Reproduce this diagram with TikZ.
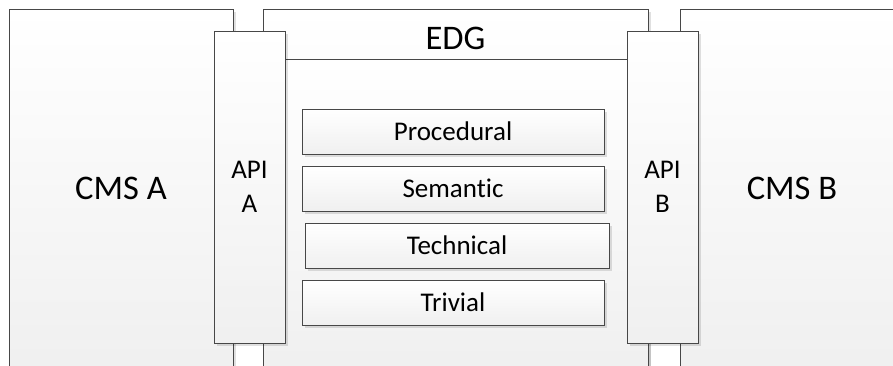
\documentclass[tikz,border=0pt]{standalone}
\usepackage{fontspec}
\setmainfont{Carlito}[Ligatures=NoCommon]
\usepackage{tikz}
\usetikzlibrary{positioning,shadows}
\tikzset{
    panel/.style={
        draw=black!72,
        line width=1pt,
        top color=white,
        bottom color=black!6,
        drop shadow={shadow xshift=3pt, shadow yshift=-3pt, fill=black, opacity=0.12},
        inner sep=0pt,
        align=center
    },
    cmsbox/.style={
        panel,
        minimum width=224pt,
        minimum height=358pt,
        font=\fontsize{34.5}{40}\selectfont
    },
    apibox/.style={
        panel,
        minimum width=71pt,
        minimum height=312pt,
        font=\fontsize{27}{34}\selectfont
    },
    layerbox/.style={
        panel,
        minimum width=302pt,
        minimum height=45pt,
        font=\fontsize{27}{32}\selectfont
    }
}

\begin{document}
\begin{tikzpicture}[x=1pt, y=-1pt, node distance=11pt]
        \useasboundingbox (0,0) rectangle (893,365);
        \clip (0,0) rectangle (893,365);
        \fill[white] (0,0) rectangle (893,365);

        % the two systems and the gateway between them
        \node[cmsbox] (cmsa) at (121,188) {CMS A};
        \node[cmsbox] (cmsb) at (792,188) {CMS B};
        \node[panel, minimum width=385pt, minimum height=358pt] (edg) at (455.5,188) {};
        \node[font=\fontsize{34.5}{40}\selectfont, inner sep=0pt, below=18pt of edg.north] (edgtitle) {EDG};
        \node[panel, minimum width=385pt, minimum height=308pt] (edgbody) at (455.5,213) {};

        % interfaces
        \node[apibox] (apia) at (249.5,187) {API\\A};
        \node[apibox] (apib) at (662.5,187) {API\\B};

        % layers inside the gateway
        \node[layerbox] (proc) at (453,131.5) {Procedural};
        \node[layerbox, below=of proc] (sem) {Semantic};
        \node[layerbox, minimum width=304pt, below=of sem, xshift=4pt] (tech) {Technical};
        \node[layerbox, below=of tech, xshift=-4pt] (triv) {Trivial};
    \end{tikzpicture}
\end{document}
